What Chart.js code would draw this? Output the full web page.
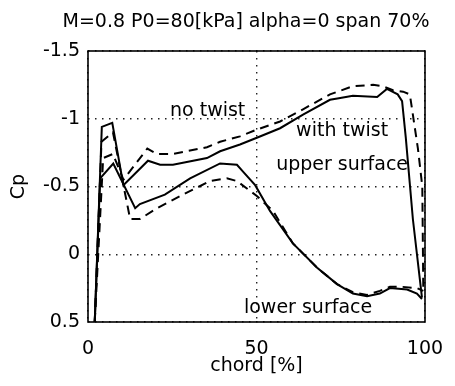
<!DOCTYPE html>
<html><head><meta charset="utf-8">
<script src="https://cdn.jsdelivr.net/npm/chart.js@4.4.0/dist/chart.umd.min.js"></script>
<style>html,body{margin:0;padding:0;background:#fff;}</style>
</head><body>
<canvas id="c" width="455" height="386"></canvas>
<script>
// ---- text ----
const chartTitle = 'M=0.8 P0=80[kPa] alpha=0 span 70%';
const xAxisTitle = 'chord [%]';
const yAxisTitle = 'Cp';
const xTickValues = [0, 50, 100];
const xTickLabels = ['0', '50', '100'];
const yTickValues = [-1.5, -1, -0.5, 0, 0.5];
const yTickLabels = ['-1.5', '-1', '-0.5', '0', '0.5'];
const curveLabels = ['no twist', 'with twist', 'upper surface', 'lower surface'];

// ---- data (chord %, Cp) ----
const withTwistUpperX  = [2.0, 4.1, 7.2, 10.5, 17.8, 21.4, 25.2, 35.3, 39.2, 45.1, 50.1, 57.0, 63.8, 71.8, 74.0, 78.6, 85.8, 88.7, 91.9, 93.2, 94.3, 96.4, 99.1];
const withTwistUpperCp = [0.50, -0.94, -0.97, -0.51, -0.69, -0.66, -0.66, -0.71, -0.76, -0.81, -0.86, -0.93, -1.03, -1.14, -1.15, -1.17, -1.16, -1.22, -1.18, -1.13, -0.86, -0.26, 0.32];

const withTwistLowerX  = [2.0, 3.6, 7.5, 14.0, 15.4, 22.8, 30.3, 39.2, 44.2, 46.0, 49.6, 54.0, 60.8, 68.0, 73.9, 78.6, 82.8, 86.6, 89.6, 94.7, 97.6, 99.1];
const withTwistLowerCp = [0.50, -0.56, -0.67, -0.34, -0.37, -0.44, -0.56, -0.67, -0.66, -0.61, -0.51, -0.32, -0.08, 0.10, 0.22, 0.29, 0.31, 0.29, 0.25, 0.26, 0.29, 0.33];

const noTwistUpperX  = [2.0, 4.5, 7.4, 10.5, 17.6, 20.5, 25.2, 35.3, 39.2, 45.1, 50.1, 57.0, 63.8, 71.8, 78.6, 84.6, 87.5, 90.5, 93.5, 95.5, 96.4, 97.9, 99.2, 99.5];
const noTwistUpperCp = [0.50, -0.71, -0.74, -0.55, -0.78, -0.74, -0.74, -0.79, -0.83, -0.87, -0.92, -0.98, -1.07, -1.18, -1.24, -1.25, -1.24, -1.21, -1.20, -1.18, -1.03, -0.78, -0.50, 0.27];

const noTwistLowerX  = [2.0, 4.0, 7.4, 12.5, 15.4, 20.5, 28.2, 36.2, 41.2, 44.2, 50.1, 54.9, 60.8, 68.0, 73.9, 78.6, 82.8, 86.6, 89.6, 93.0, 97.6, 99.5];
const noTwistLowerCp = [0.50, -0.83, -0.90, -0.26, -0.26, -0.34, -0.44, -0.54, -0.56, -0.54, -0.43, -0.32, -0.08, 0.10, 0.22, 0.28, 0.30, 0.27, 0.24, 0.24, 0.25, 0.27];

function pts(xs, ys) { return xs.map((x, i) => ({x: x, y: ys[i]})); }

const FONT = 'DejaVu Sans';

const framePlugin = {
  id: 'frameAndText',
  afterDatasetsDraw(chart) {
    const {ctx, chartArea: a, scales} = chart;
    ctx.save();
    ctx.strokeStyle = '#000';
    ctx.lineWidth = 1.6;
    ctx.setLineDash([]);
    ctx.strokeRect(a.left, a.top, a.right - a.left, a.bottom - a.top);
    // curve labels, anchored in data coordinates
    const anchors = [[35.5, -1.02], [75.4, -0.87], [75.4, -0.625], [65.3, 0.434]];
    ctx.fillStyle = '#000';
    ctx.font = '19px "' + FONT + '"';
    ctx.textAlign = 'center';
    ctx.textBaseline = 'alphabetic';
    curveLabels.forEach((t, i) => {
      ctx.fillText(t, scales.x.getPixelForValue(anchors[i][0]), scales.y.getPixelForValue(anchors[i][1]));
    });
    // chart title
    ctx.textBaseline = 'middle';
    ctx.fillText(chartTitle, 246, 22);
    ctx.restore();
  }
};

const dotted = {color: '#222', lineWidth: 1.4, drawTicks: false};

new Chart(document.getElementById('c'), {
  type: 'scatter',
  data: {
    datasets: [
      {label: 'no twist upper', data: pts(noTwistUpperX, noTwistUpperCp), borderDash: [9, 6]},
      {label: 'no twist lower', data: pts(noTwistLowerX, noTwistLowerCp), borderDash: [9, 6]},
      {label: 'with twist upper', data: pts(withTwistUpperX, withTwistUpperCp)},
      {label: 'with twist lower', data: pts(withTwistLowerX, withTwistLowerCp)}
    ].map(d => Object.assign({showLine: true, borderColor: '#000', borderWidth: 2, pointRadius: 0, tension: 0, fill: false}, d))
  },
  options: {
    responsive: false,
    animation: false,
    devicePixelRatio: 1,
    layout: {padding: {left: 0, right: 30, top: 51, bottom: 0}},
    plugins: {legend: {display: false}, tooltip: {enabled: false}, title: {display: false}},
    scales: {
      x: {
        type: 'linear', min: 0, max: 100,
        afterBuildTicks: s => { s.ticks = xTickValues.map(v => ({value: v})); },
        afterFit: s => { s.height = 64; s.paddingLeft = 0; s.paddingRight = 0; },
        grid: Object.assign({}, dotted),
        border: {display: false, dash: [1.5, 5.5]},
        ticks: {color: '#000', padding: 16, font: {family: FONT, size: 19}, maxRotation: 0,
                callback: (v, i) => xTickLabels[i]},
        title: {display: true, text: xAxisTitle, color: '#000', font: {family: FONT, size: 19}, padding: {top: 0, bottom: 9}}
      },
      y: {
        type: 'linear', min: -1.5, max: 0.5, reverse: true,
        afterBuildTicks: s => { s.ticks = yTickValues.map(v => ({value: v})); },
        afterFit: s => { s.width = 88; s.paddingTop = 0; s.paddingBottom = 0; },
        grid: Object.assign({}, dotted),
        border: {display: false, dash: [1.5, 5.5]},
        ticks: {color: '#000', padding: 8, font: {family: FONT, size: 19},
                callback: (v, i) => yTickLabels[i]},
        title: {display: true, text: yAxisTitle, color: '#000', font: {family: FONT, size: 19}, padding: {top: 8, bottom: 0}}
      }
    }
  },
  plugins: [framePlugin]
});
</script>
</body></html>
